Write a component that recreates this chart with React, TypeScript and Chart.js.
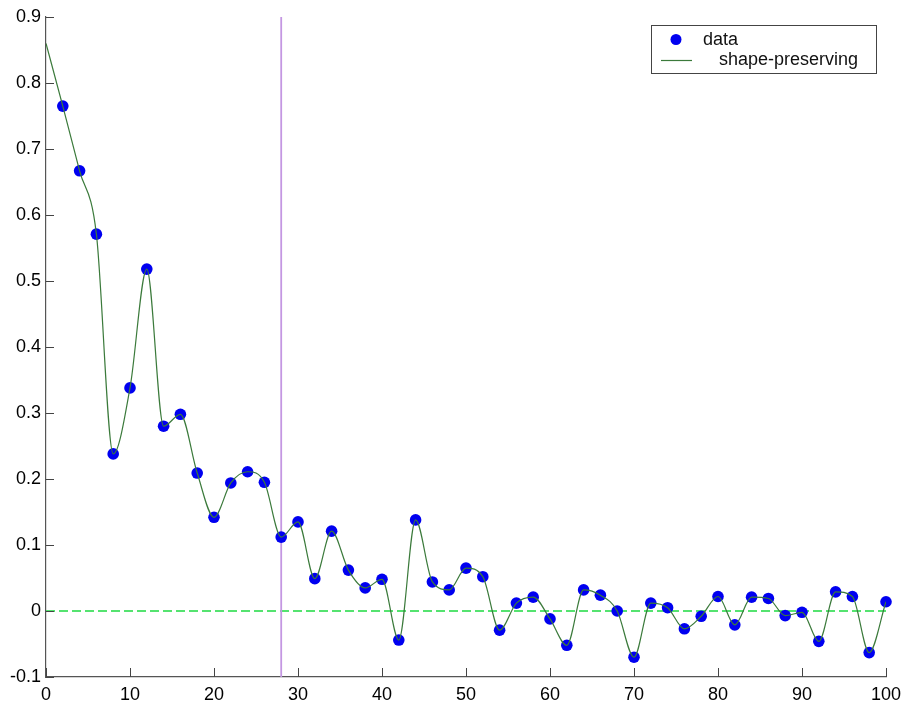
import React, { useEffect, useRef } from "react";
import { Chart, registerables } from "chart.js";

Chart.register(...registerables);

// ---- data ----
const xValues = [2, 4, 6, 8, 10, 12, 14, 16, 18, 20, 22, 24, 26, 28, 30, 32, 34, 36, 38, 40, 42, 44, 46, 48, 50, 52, 54, 56, 58, 60, 62, 64, 66, 68, 70, 72, 74, 76, 78, 80, 82, 84, 86, 88, 90, 92, 94, 96, 98, 100];
const yValues = [0.765, 0.667, 0.571, 0.238, 0.338, 0.518, 0.28, 0.298, 0.209, 0.142, 0.194, 0.211, 0.195, 0.112, 0.135, 0.049, 0.121, 0.062, 0.035, 0.048, -0.044, 0.138, 0.044, 0.032, 0.065, 0.052, -0.029, 0.012, 0.021, -0.012, -0.052, 0.032, 0.024, 0.0, -0.07, 0.012, 0.005, -0.027, -0.008, 0.022, -0.021, 0.021, 0.019, -0.007, -0.002, -0.046, 0.029, 0.022, -0.063, 0.014];
// value of the shape-preserving curve at the left edge (extrapolated)
const curveStartX = 0;
const curveStartY = 0.86;
const xTicks = [0, 10, 20, 30, 40, 50, 60, 70, 80, 90, 100];
const yTicks = [-0.1, 0, 0.1, 0.2, 0.3, 0.4, 0.5, 0.6, 0.7, 0.8, 0.9];
const verticalMarkerX = 28;
const baselineY = 0;
const seriesLabels = ["data", "shape-preserving"];

const FONT = "'Liberation Sans', Arial, Helvetica, sans-serif";
const BLUE = "#0000f0";
const LINE_GREEN = "#3b7a3b";
const DASH_GREEN = "#55e370";
const PURPLE = "#c497e2";

const inwardTicks = {
  id: "inwardTicks",
  afterDatasetsDraw(chart: any) {
    const { ctx, chartArea, scales } = chart;
    ctx.save();
    ctx.strokeStyle = "#444";
    ctx.lineWidth = 1;
    ctx.beginPath();
    for (const v of xTicks) {
      const px = Math.round(scales.x.getPixelForValue(v)) + 0.5;
      ctx.moveTo(px, chartArea.bottom);
      ctx.lineTo(px, chartArea.bottom - 9);
    }
    for (const v of yTicks) {
      const py = Math.round(scales.y.getPixelForValue(v)) + 0.5;
      ctx.moveTo(chartArea.left, py);
      ctx.lineTo(chartArea.left + 8, py);
    }
    ctx.stroke();
    ctx.restore();
  },
};

const boxLegend = {
  id: "boxLegend",
  afterDraw(chart: any) {
    const { ctx, chartArea } = chart;
    const right = chartArea.right - 10;
    const left = right - 225;
    const top = chartArea.top + 8;
    const h = 48;
    ctx.save();
    ctx.fillStyle = "#fff";
    ctx.fillRect(left, top, right - left, h);
    ctx.strokeStyle = "#444";
    ctx.lineWidth = 1;
    ctx.strokeRect(Math.round(left) + 0.5, Math.round(top) + 0.5, right - left, h);
    // row 1: marker
    ctx.fillStyle = BLUE;
    ctx.beginPath();
    ctx.arc(left + 25, top + 14.5, 5.5, 0, Math.PI * 2);
    ctx.fill();
    ctx.fillStyle = "#111";
    ctx.font = `18px ${FONT}`;
    ctx.textBaseline = "middle";
    ctx.textAlign = "left";
    ctx.fillText(seriesLabels[0], left + 52, top + 15);
    // row 2: line
    ctx.strokeStyle = LINE_GREEN;
    ctx.lineWidth = 1.2;
    ctx.beginPath();
    ctx.moveTo(left + 10, top + 35.5);
    ctx.lineTo(left + 41, top + 35.5);
    ctx.stroke();
    ctx.fillText(seriesLabels[1], left + 68, top + 35);
    ctx.restore();
  },
};

export default function App() {
  const ref = useRef<HTMLCanvasElement | null>(null);

  useEffect(() => {
    if (!ref.current) return;
    const curveX = [curveStartX, ...xValues];
    const curveY = [curveStartY, ...yValues];
    const chart = new Chart(ref.current, {
      type: "scatter",
      data: {
        datasets: [
          {
            label: seriesLabels[1],
            data: curveX.map((x, i) => ({ x, y: curveY[i] })),
            showLine: true,
            borderColor: LINE_GREEN,
            borderWidth: 1.2,
            pointRadius: 0,
            cubicInterpolationMode: "monotone",
            fill: false,
            order: 0,
          } as any,
          {
            label: seriesLabels[0],
            data: xValues.map((x, i) => ({ x, y: yValues[i] })),
            showLine: false,
            pointRadius: 5.8,
            pointBackgroundColor: BLUE,
            pointBorderColor: BLUE,
            pointBorderWidth: 0,
            clip: false,
            order: 1,
          } as any,
          {
            label: "vertical",
            data: [
              { x: verticalMarkerX, y: yTicks[0] },
              { x: verticalMarkerX, y: yTicks[yTicks.length - 1] },
            ],
            showLine: true,
            borderColor: PURPLE,
            borderWidth: 1.8,
            pointRadius: 0,
            order: 2,
          } as any,
          {
            label: "baseline",
            data: [
              { x: xTicks[0], y: baselineY },
              { x: xTicks[xTicks.length - 1], y: baselineY },
            ],
            showLine: true,
            borderColor: DASH_GREEN,
            borderWidth: 2,
            borderDash: [9, 4],
            pointRadius: 0,
            order: 3,
          } as any,
        ],
      },
      options: {
        animation: false,
        responsive: false,
        devicePixelRatio: 1,
        layout: { padding: { top: 17, right: 19, left: 0, bottom: 0 } },
        plugins: { legend: { display: false }, tooltip: { enabled: false } },
        scales: {
          x: {
            type: "linear",
            min: xTicks[0],
            max: xTicks[xTicks.length - 1],
            afterBuildTicks: (s: any) => {
              s.ticks = xTicks.map((v) => ({ value: v }));
            },
            afterFit: (s: any) => {
              s.height = 28;
              s.paddingLeft = 0;
              s.paddingRight = 0;
            },
            grid: { display: false, drawTicks: false },
            border: { display: true, color: "#555", width: 1.2 },
            ticks: {
              color: "#000",
              font: { family: FONT, size: 18 },
              padding: 7,
              maxRotation: 0,
              autoSkip: false,
              callback: (v: any) => String(Number(Number(v).toFixed(1))),
            },
          },
          y: {
            type: "linear",
            min: yTicks[0],
            max: yTicks[yTicks.length - 1],
            afterBuildTicks: (s: any) => {
              s.ticks = yTicks.map((v) => ({ value: v }));
            },
            afterFit: (s: any) => {
              s.width = 46;
              s.paddingTop = 0;
              s.paddingBottom = 0;
            },
            grid: { display: false, drawTicks: false },
            border: { display: true, color: "#555", width: 1.2 },
            ticks: {
              color: "#000",
              font: { family: FONT, size: 18 },
              padding: 5,
              autoSkip: false,
              callback: (v: any) => String(Number(Number(v).toFixed(1))),
            },
          },
        },
      } as any,
      plugins: [inwardTicks, boxLegend],
    });
    return () => chart.destroy();
  }, []);

  return (
    <div style={{ position: "absolute", left: 0, top: 0, width: 905, height: 705, background: "#fff" }}>
      <canvas ref={ref} width={905} height={705} style={{ display: "block" }} />
    </div>
  );
}
